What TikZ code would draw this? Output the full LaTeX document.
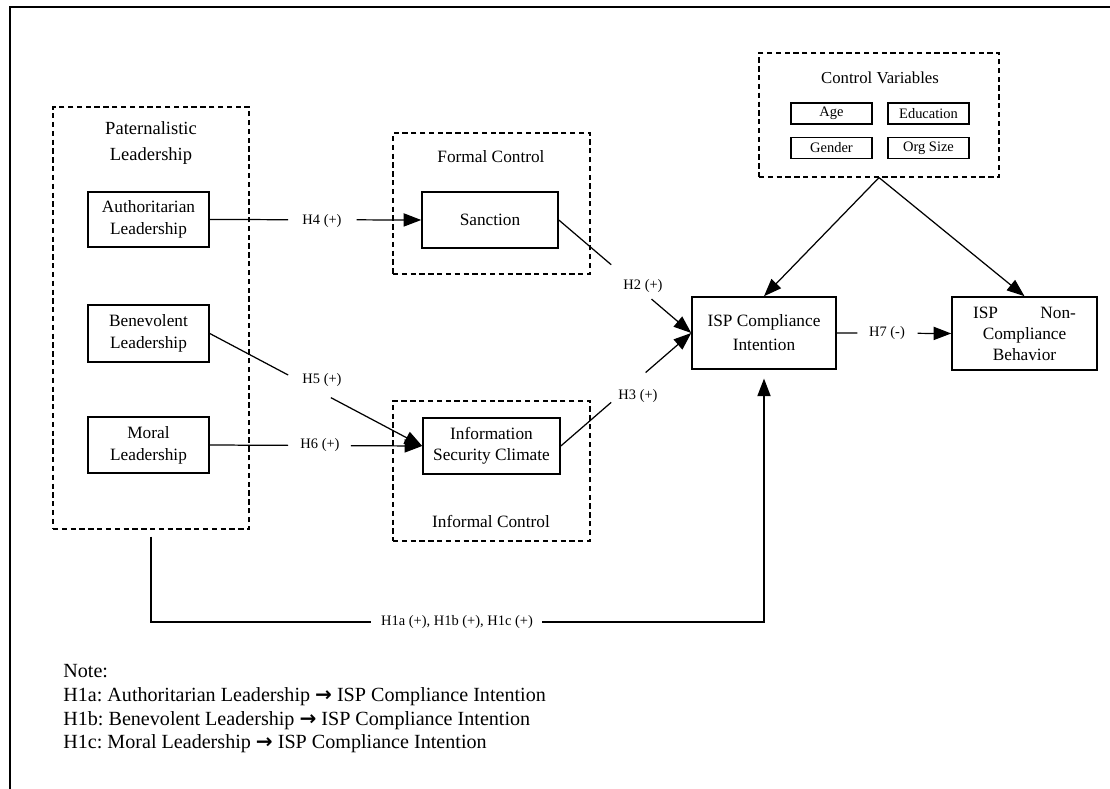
\documentclass[tikz,border=0pt]{standalone}
\usepackage{fontspec}
\setmainfont{Liberation Serif}
\newfontfamily\arrowfont{DejaVu Sans}
\usetikzlibrary{arrows.meta,calc}
\frenchspacing
\begin{document}
\begin{tikzpicture}[x=0.567pt,y=-0.567pt,
  box/.style={draw,line width=0.9pt,inner sep=0pt,align=center,font=\fontsize{9.8}{12.5}\selectfont},
  cvbox/.style={draw,line width=0.8pt,inner sep=0pt,minimum width=45.9pt,minimum height=11.9pt,font=\fontsize{8.2}{10}\selectfont},
  dbox/.style={draw,dash pattern=on 3pt off 2pt,line width=0.7pt,inner sep=0pt},
  lbl/.style={inner sep=0pt,font=\fontsize{8.2}{10}\selectfont},
  ttl/.style={align=center,inner sep=0pt,font=\fontsize{9.8}{12.5}\selectfont},
  notetxt/.style={inner sep=0pt,anchor=base west,font=\fontsize{11.4}{13.3}\selectfont},
  conn/.style={line width=0.7pt},
  arr/.style={conn,-{Triangle[length=10pt,width=7.5pt]}},
  frame/.style={line width=1.1pt}]
\useasboundingbox (0,0) rectangle (1110,789);

% outer frame (only top and left edges visible)
\draw[frame] (1110,7) -| (10,789);

% dashed groups
\node[dbox,minimum width=111.1pt,minimum height=239.3pt] (pat) at (151,318) {};
\node[dbox,minimum width=111.7pt,minimum height=79.9pt] (formal) at (491.5,203.5) {};
\node[dbox,minimum width=111.7pt,minimum height=79.4pt] (informal) at (491.5,471) {};
\node[dbox,minimum width=136.1pt,minimum height=70.3pt] (cv) at (879,115) {};

% group titles
\node[ttl,font=\fontsize{10.5}{14.7}\selectfont] (patt) at (151,143) {Paternalistic\\Leadership};
\node[ttl] (formalt) at (491,157) {Formal Control};
\node[ttl] (informalt) at (491,521) {Informal Control};
\node[ttl,font=\fontsize{9.5}{12}\selectfont] (cvt) at (880,78) {Control Variables};

% control variable boxes
\node[cvbox] (age) at (831.5,113.5) {Age};
\node[cvbox] (edu) at (928.5,113.5) {Education};
\node[cvbox] (gen) at (831.5,148) {Gender};
\node[cvbox] (org) at (928.5,148) {Org Size};

% construct boxes
\node[box,minimum width=68.6pt,minimum height=31.2pt] (auth) at (148.5,219.5) {Authoritarian\\Leadership};
\node[box,minimum width=68.6pt,minimum height=32.3pt] (ben) at (148.5,333.5) {Benevolent\\Leadership};
\node[box,minimum width=68.6pt,minimum height=31.8pt] (mor) at (148.5,445) {Moral\\Leadership};
\node[box,minimum width=77.1pt,minimum height=31.8pt] (sanc) at (490,220) {Sanction};
\node[box,minimum width=77.7pt,minimum height=31.8pt,font=\fontsize{9.8}{11.8}\selectfont] (isc) at (491.5,446) {Information\\Security Climate};
\node[box,minimum width=81.6pt,minimum height=40.8pt,font=\fontsize{9.8}{13.6}\selectfont] (isp) at (764,333) {ISP Compliance\\Intention};
\node[box,minimum width=82.2pt,minimum height=41.4pt,font=\fontsize{9.8}{11.9}\selectfont] (nc) at (1024.5,333.5) {\makebox[58.4pt]{ISP\hfill Non-}\\Compliance\\Behavior};

% hypothesis labels
\node[lbl] (h4) at (322,221) {H4 (+)};
\node[lbl] (h5) at (322,380) {H5 (+)};
\node[lbl] (h6) at (320,445) {H6 (+)};
\node[lbl] (h2) at (643,286) {H2 (+)};
\node[lbl] (h3) at (638,396) {H3 (+)};
\node[lbl] (h7) at (887,333) {H7 (-)};
\node[lbl] (h1) at (457,622) {H1a (+), H1b (+), H1c (+)};

% H4
\draw[conn] (auth.east) -- ($(auth.east)!0.37!(sanc.west)$);
\draw[arr] ($(auth.east)!0.695!(sanc.west)$) -- (sanc.west);
% H5
\draw[conn] (ben.east) -- ($(ben.east)!0.369!(isc.west)$);
\draw[arr] ($(ben.east)!0.57!(isc.west)$) -- (isc.west);
% H6
\draw[conn] (mor.east) -- ($(mor.east)!0.369!(isc.west)$);
\draw[arr] ($(mor.east)!0.664!(isc.west)$) -- (isc.west);
% H2
\draw[conn] (sanc.east) -- ($(sanc.east)!0.396!(isp.west)$);
\draw[arr] ($(sanc.east)!0.70!(isp.west)$) -- (isp.west);
% H3
\draw[conn] (isc.east) -- ($(isc.east)!0.386!(isp.west)$);
\draw[arr] ($(isc.east)!0.65!(isp.west)$) -- (isp.west);
% H7
\draw[conn] (isp.east) -- ($(isp.east)!0.18!(nc.west)$);
\draw[arr] ($(isp.east)!0.707!(nc.west)$) -- (nc.west);
% control variables
\draw[arr] (cv.south) -- (isp.north);
\draw[arr] (cv.south) -- (nc.north);
% H1
\draw[conn] ([yshift=-4pt]pat.south) |- ([xshift=-5.5pt]h1.west);
\draw[arr] ([xshift=5pt]h1.east) -| ([yshift=-5pt]isp.south);

% note
\node[notetxt] (n0) at (63,677) {Note:};
\node[notetxt] (n1) at (63,701) {H1a: Authoritarian Leadership {\arrowfont\bfseries\fontsize{11.4}{13}\selectfont →} ISP Compliance Intention};
\node[notetxt] (n2) at (63,725) {H1b: Benevolent Leadership {\arrowfont\bfseries\fontsize{11.4}{13}\selectfont →} ISP Compliance Intention};
\node[notetxt] (n3) at (63,748) {H1c: Moral Leadership {\arrowfont\bfseries\fontsize{11.4}{13}\selectfont →} ISP Compliance Intention};
\end{tikzpicture}
\end{document}
